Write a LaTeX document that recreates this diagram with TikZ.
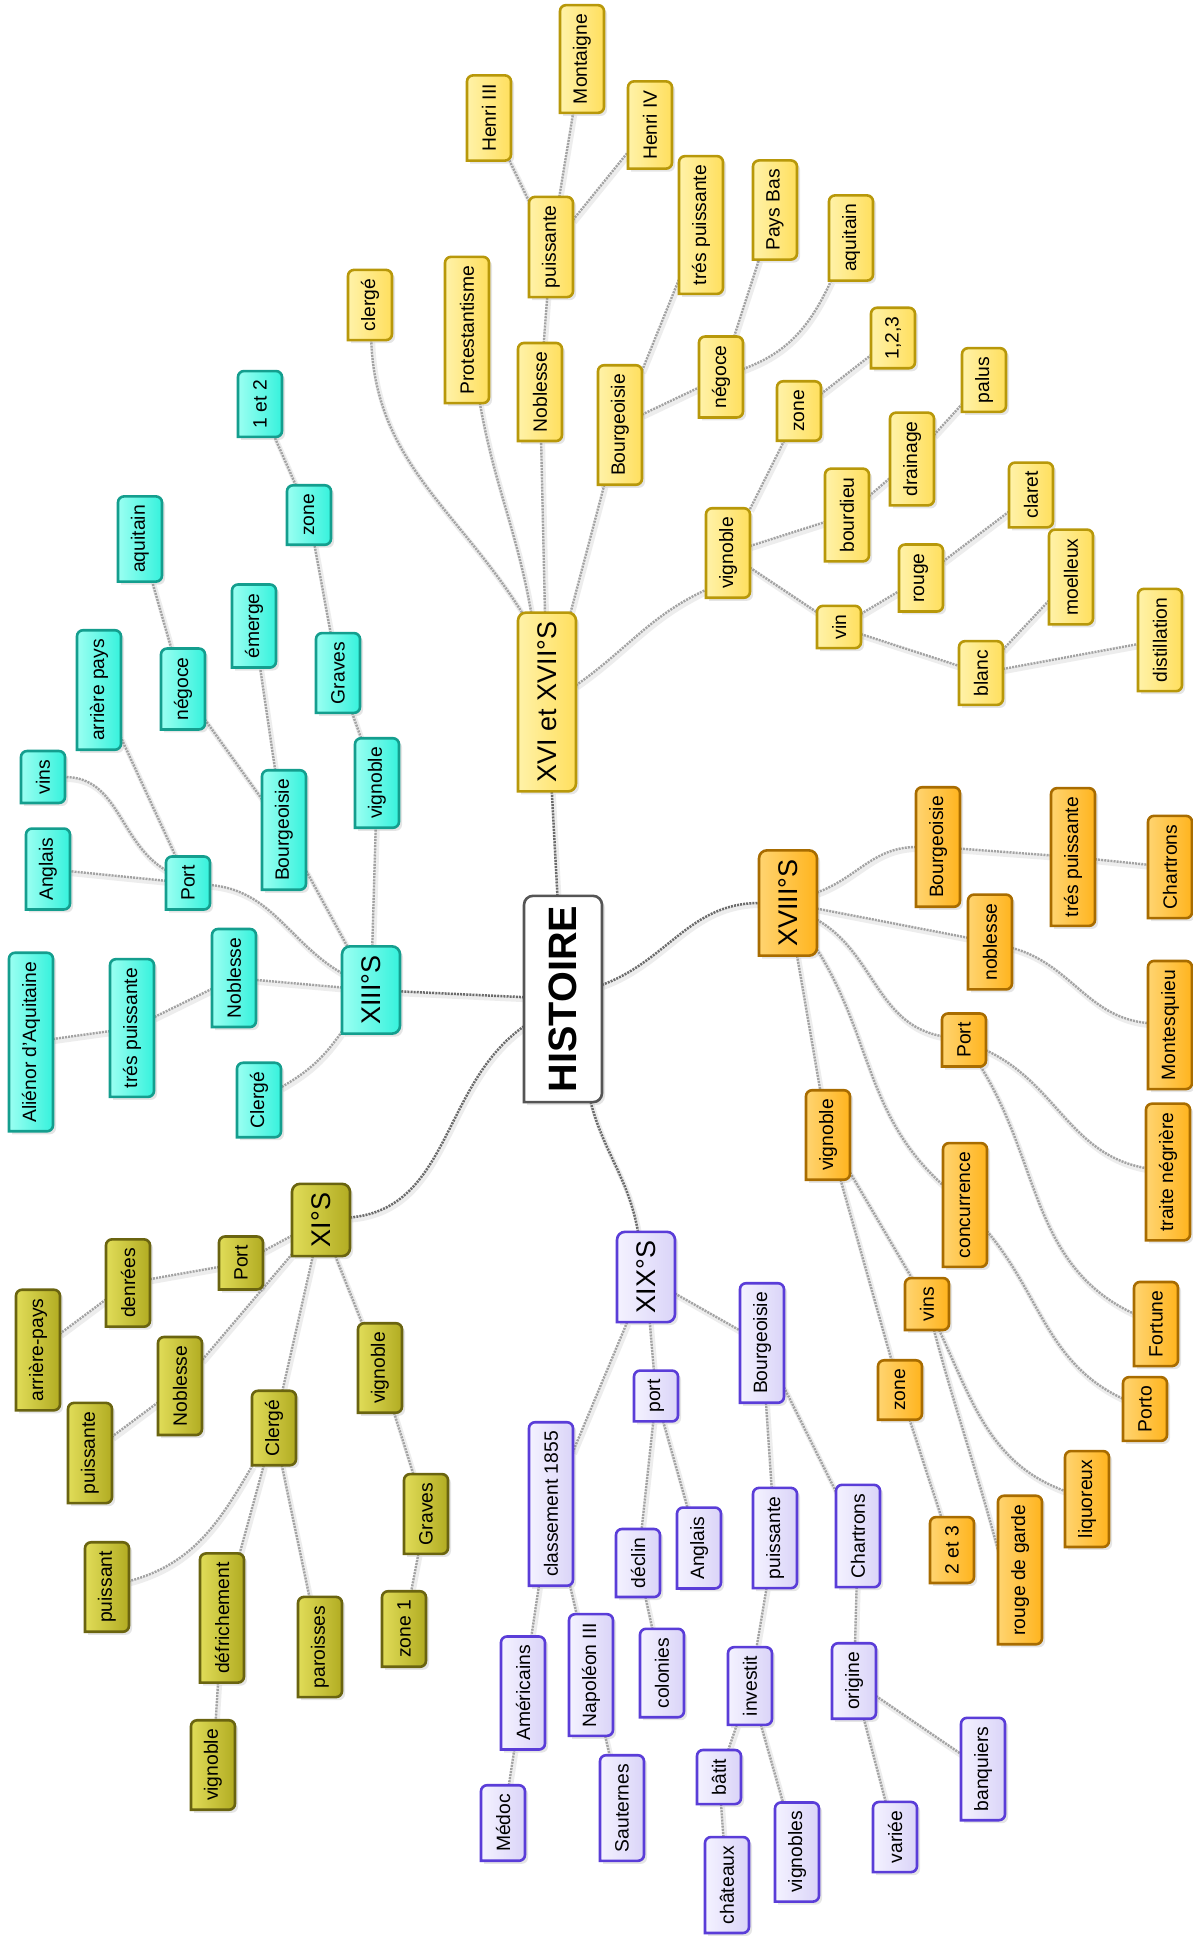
\documentclass[tikz,border=0pt]{standalone}
\usepackage{fontspec}
\setmainfont{Liberation Sans}
\usepackage{graphicx}
\usetikzlibrary{shadows}
\pgfdeclarelayer{bg}\pgfdeclarelayer{edges}\pgfdeclarelayer{boxes}
\pgfsetlayers{bg,edges,boxes,main}
\definecolor{YL}{HTML}{FFF2A8}\definecolor{YF}{HTML}{FFDF5E}\definecolor{YB}{HTML}{B8980A}
\definecolor{CL}{HTML}{9AFFF2}\definecolor{CF}{HTML}{36F2DC}\definecolor{CB}{HTML}{149E8E}
\definecolor{OL}{HTML}{FFD470}\definecolor{OF}{HTML}{FFB41E}\definecolor{OB}{HTML}{A86C00}
\definecolor{GL}{HTML}{E0DC58}\definecolor{GF}{HTML}{B2AC22}\definecolor{GB}{HTML}{6A6410}
\definecolor{PL}{HTML}{F4F2FF}\definecolor{PF}{HTML}{DAD4F8}\definecolor{PB}{HTML}{5A3DD8}
\definecolor{HL}{HTML}{FFFFFF}\definecolor{HF}{HTML}{FFFFFF}\definecolor{HB}{HTML}{555555}
\tikzset{
  mmsmall/.style={inner xsep=0pt, inner ysep=8.8pt, minimum width=44pt, outer sep=0pt,
    font=\fontsize{19.3}{23}\selectfont},
  mmbig/.style={inner xsep=0pt, inner ysep=9pt, minimum width=58pt, outer sep=0pt,
    font=\fontsize{27}{32}\selectfont},
  mmroot/.style={inner xsep=0pt, inner ysep=10pt, minimum width=78pt, outer sep=0pt,
    font=\fontsize{39.6}{46}\selectfont\bfseries},
  lineshadow/.style={preaction={draw=black!7, line width=5pt, solid, transform canvas={xshift=1.5pt,yshift=-2.5pt}}},
  ed/.style={lineshadow, line width=2.4pt, draw=black!36, dash pattern=on 2pt off 1.1pt},
  edm/.style={lineshadow, line width=2.5pt, draw=black!58, dash pattern=on 2pt off 1.1pt},
}
\newcommand\mmshape[3]{%
  \begin{pgfonlayer}{boxes}
  \path[draw=#2B, line width=2.6pt, left color=#2L, middle color=#2F, right color=#2F,
    drop shadow={shadow xshift=3pt, shadow yshift=-3pt, opacity=0.2}]
    (#1.south west) -- (#1.west) [rounded corners=#3] -- (#1.north west) -- (#1.north east)
    -- (#1.south east) -- (#1.south) [sharp corners] -- cycle;
  \end{pgfonlayer}}
\newcommand\nd[5]{\node[mmsmall] (#1) at (#3,#4) {\rotatebox{90}{#5}};\mmshape{#1}{#2}{6pt}}
\newcommand\nl[5]{\node[mmbig] (#1) at (#3,#4) {\rotatebox{90}{#5}};\mmshape{#1}{#2}{8pt}}
\begin{document}
\begin{tikzpicture}[x=1pt,y=-1pt]
\useasboundingbox (0,0) rectangle (1192,1937);
\begin{pgfonlayer}{bg}\fill[white] (0,0) rectangle (1192,1937);\end{pgfonlayer}
% root
\node[mmroot] (hist) at (563,999) {\rotatebox{90}{HISTOIRE}};\mmshape{hist}{H}{9pt}
% yellow
\nl{xvi}{Y}{547}{702}{XVI et XVII°S}
\nd{clergeY}{Y}{370}{305}{clergé}
\nd{protest}{Y}{467}{330}{Protestantisme}
\nd{noblY}{Y}{540}{392}{Noblesse}
\nd{puisY}{Y}{551}{247}{puissante}
\nd{henriIII}{Y}{489}{118}{Henri III}
\nd{montaigne}{Y}{582}{59}{Montaigne}
\nd{henriIV}{Y}{650}{125}{Henri IV}
\nd{bourgY}{Y}{620}{425}{Bourgeoisie}
\nd{tpY}{Y}{701}{225}{trés puissante}
\nd{negY}{Y}{721}{377}{négoce}
\nd{paysbas}{Y}{775}{210}{Pays Bas}
\nd{aquiY}{Y}{851}{238}{aquitain}
\nd{vigY}{Y}{728}{553}{vignoble}
\nd{zoneY}{Y}{799}{411}{zone}
\nd{zott}{Y}{893}{338}{1,2,3}
\nd{bourdieu}{Y}{847}{515}{bourdieu}
\nd{drainage}{Y}{912}{459}{drainage}
\nd{palus}{Y}{984}{380}{palus}
\nd{vin}{Y}{839}{627}{vin}
\nd{rouge}{Y}{921}{578}{rouge}
\nd{claret}{Y}{1031}{495}{claret}
\nd{blanc}{Y}{981}{673}{blanc}
\nd{moelleux}{Y}{1071}{577}{moelleux}
\nd{distil}{Y}{1160}{640}{distillation}
% cyan
\nl{xiii}{C}{371}{990}{XIII°S}
\nd{vigC}{C}{377}{783}{vignoble}
\nd{gravesC}{C}{338}{673}{Graves}
\nd{zoneC}{C}{309}{515}{zone}
\nd{etot}{C}{260}{404}{1 et 2}
\nd{bourgC}{C}{284}{830}{Bourgeoisie}
\nd{emerge}{C}{254}{626}{émerge}
\nd{negC}{C}{183}{689}{négoce}
\nd{aquiC}{C}{140}{539}{aquitain}
\nd{portC}{C}{188}{883}{Port}
\nd{arrpays}{C}{99}{690}{arrière pays}
\nd{vins}{C}{43}{777}{vins}
\nd{anglaisC}{C}{48}{869}{Anglais}
\nd{noblC}{C}{234}{978}{Noblesse}
\nd{tpC}{C}{132}{1028}{trés puissante}
\nd{alienor}{C}{31}{1042}{Aliénor d'Aquitaine}
\nd{clergeC}{C}{259}{1100}{Clergé}
% olive
\nl{xi}{G}{321}{1220}{XI°S}
\nd{portG}{G}{241}{1263}{Port}
\nd{denrees}{G}{128}{1283}{denrées}
\nd{arrpaysG}{G}{38}{1350}{arrière-pays}
\nd{noblG}{G}{180}{1386}{Noblesse}
\nd{puisG}{G}{90}{1453}{puissante}
\nd{clergeG}{G}{274}{1428}{Clergé}
\nd{puissant}{G}{107}{1587}{puissant}
\nd{defrich}{G}{222}{1618}{défrichement}
\nd{vigGb}{G}{213}{1765}{vignoble}
\nd{paroisses}{G}{320}{1647}{paroisses}
\nd{vigG}{G}{380}{1368}{vignoble}
\nd{gravesG}{G}{426}{1514}{Graves}
\nd{zoneun}{G}{404}{1629}{zone 1}
% orange
\nl{xviii}{O}{788}{903}{XVIII°S}
\nd{bourgO}{O}{938}{847}{Bourgeoisie}
\nd{tpO}{O}{1073}{857}{trés puissante}
\nd{chartronsO}{O}{1170}{867}{Chartrons}
\nd{noblO}{O}{990}{942}{noblesse}
\nd{montesq}{O}{1170}{1025}{Montesquieu}
\nd{portO}{O}{964}{1040}{Port}
\nd{traite}{O}{1168}{1172}{traite négrière}
\nd{fortune}{O}{1156}{1324}{Fortune}
\nd{porto}{O}{1145}{1409}{Porto}
\nd{concur}{O}{965}{1205}{concurrence}
\nd{vigO}{O}{828}{1135}{vignoble}
\nd{zoneO}{O}{900}{1390}{zone}
\nd{etdt}{O}{952}{1550}{2 et 3}
\nd{vinsO}{O}{927}{1304}{vins}
\nd{rdg}{O}{1020}{1570}{rouge de garde}
\nd{liquoreux}{O}{1087}{1499}{liquoreux}
% purple
\nl{xix}{P}{646}{1277}{XIX°S}
\nd{classement}{P}{551}{1504}{classement 1855}
\nd{americains}{P}{523}{1693}{Américains}
\nd{medoc}{P}{503}{1823}{Médoc}
\nd{napoleon}{P}{591}{1675}{Napoléon III}
\nd{sauternes}{P}{622}{1808}{Sauternes}
\nd{portP}{P}{656}{1396}{port}
\nd{declin}{P}{638}{1563}{déclin}
\nd{colonies}{P}{662}{1673}{colonies}
\nd{anglaisP}{P}{699}{1548}{Anglais}
\nd{bourgP}{P}{762}{1343}{Bourgeoisie}
\nd{puisP}{P}{775}{1538}{puissante}
\nd{investit}{P}{750}{1686}{investit}
\nd{batit}{P}{719}{1777}{bâtit}
\nd{chateaux}{P}{727}{1885}{châteaux}
\nd{vignobles}{P}{797}{1852}{vignobles}
\nd{chartronsP}{P}{858}{1536}{Chartrons}
\nd{origine}{P}{854}{1681}{origine}
\nd{variee}{P}{895}{1837}{variée}
\nd{banquiers}{P}{983}{1769}{banquiers}
% edges
\begin{pgfonlayer}{edges}
\draw[edm] (hist) -- (xvi);
\draw[edm] (hist) -- (xiii);
\draw[edm] (hist) to[out=215,in=5] (xi);
\draw[edm] (hist) to[out=20,in=180] (xviii);
\draw[edm] (hist) to[out=-75,in=100] (xix);
% yellow
\draw[ed] ([xshift=4pt]xvi.north west) to[out=122,in=-88] (clergeY);
\draw[ed] (xvi) to[out=100,in=-80] (protest);
\draw[ed] (xvi) -- (noblY);
\draw[ed] (xvi) -- (bourgY);
\draw[ed] (xvi.30) to[out=35,in=205] ([yshift=8pt]vigY.south west);
\draw[ed] (noblY) -- (puisY);
\draw[ed] (puisY) -- (henriIII);
\draw[ed] (puisY) -- (montaigne);
\draw[ed] (puisY) -- (henriIV);
\draw[ed] (bourgY) -- (tpY);
\draw[ed] (bourgY) -- (negY);
\draw[ed] (negY) -- (paysbas);
\draw[ed] (negY) to[out=20,in=-115] (aquiY);
\draw[ed] (vigY) -- (zoneY);
\draw[ed] (zoneY) -- (zott);
\draw[ed] (vigY) -- (bourdieu);
\draw[ed] (bourdieu) -- (drainage);
\draw[ed] (drainage) -- (palus);
\draw[ed] (vigY) -- (vin);
\draw[ed] (vin) -- (rouge);
\draw[ed] (rouge) -- (claret);
\draw[ed] (vin) -- (blanc);
\draw[ed] (blanc) -- (moelleux);
\draw[ed] (blanc) -- (distil);
% cyan
\draw[ed] (xiii) -- (vigC);
\draw[ed] (vigC) -- (gravesC);
\draw[ed] (gravesC) -- (zoneC);
\draw[ed] (zoneC) -- (etot);
\draw[ed] (xiii) -- (bourgC);
\draw[ed] (bourgC) -- (emerge);
\draw[ed] (bourgC) -- (negC);
\draw[ed] (negC) -- (aquiC);
\draw[ed] (xiii) to[out=150,in=-5] (portC);
\draw[ed] (portC) -- (arrpays);
\draw[ed] (portC) to[out=150,in=0] (vins);
\draw[ed] (portC) -- (anglaisC);
\draw[ed] (xiii) -- (noblC);
\draw[ed] (noblC) -- (tpC);
\draw[ed] (tpC) -- (alienor);
\draw[ed] (xiii) to[out=235,in=30] (clergeC);
% olive
\draw[ed] (xi) -- (portG);
\draw[ed] (portG) -- (denrees);
\draw[ed] (denrees) -- (arrpaysG);
\draw[ed] (xi) -- (noblG);
\draw[ed] (noblG) -- (puisG);
\draw[ed] (xi) -- (clergeG);
\draw[ed] (clergeG) to[out=240,in=15] (puissant);
\draw[ed] (clergeG) -- (defrich);
\draw[ed] (defrich) -- (vigGb);
\draw[ed] (clergeG) -- (paroisses);
\draw[ed] (xi) -- (vigG);
\draw[ed] (vigG) -- (gravesG);
\draw[ed] (gravesG) -- (zoneun);
% orange
\draw[ed] (xviii) to[out=20,in=180] (bourgO);
\draw[ed] (bourgO) -- (tpO);
\draw[ed] (tpO) -- (chartronsO);
\draw[ed] (xviii) -- (noblO);
\draw[ed] (noblO) to[out=-15,in=175] (montesq);
\draw[ed] (xviii) to[out=-30,in=170] (portO);
\draw[ed] (portO) to[out=-25,in=170] (traite);
\draw[ed] (portO) to[out=-58,in=155] (fortune);
\draw[ed] (concur) to[out=-50,in=155] (porto);
\draw[ed] (xviii) to[out=-58,in=138] (concur);
\draw[ed] (xviii) -- (vigO);
\draw[ed] (vigO) -- (zoneO);
\draw[ed] (vigO) -- (vinsO);
\draw[ed] (vinsO) to[out=-75,in=105] ([yshift=20pt]rdg.west);
\draw[ed] (vinsO) to[out=-65,in=160] (liquoreux);
\draw[ed] (zoneO) -- (etdt);
% purple
\draw[ed] (xix) -- (classement);
\draw[ed] (classement) -- (americains);
\draw[ed] (americains) -- (medoc);
\draw[ed] (classement) -- (napoleon);
\draw[ed] (napoleon) -- (sauternes);
\draw[ed] (xix) -- (portP);
\draw[ed] (portP) -- (declin);
\draw[ed] (declin) -- (colonies);
\draw[ed] (portP) -- (anglaisP);
\draw[ed] (xix) -- (bourgP);
\draw[ed] (bourgP) -- (puisP);
\draw[ed] (puisP) -- (investit);
\draw[ed] (investit) -- (batit);
\draw[ed] (batit) -- (chateaux);
\draw[ed] (investit) -- (vignobles);
\draw[ed] (bourgP) -- (chartronsP);
\draw[ed] (chartronsP) -- (origine);
\draw[ed] (origine) -- (variee);
\draw[ed] (origine) -- (banquiers);
\end{pgfonlayer}
\end{tikzpicture}
\end{document}
